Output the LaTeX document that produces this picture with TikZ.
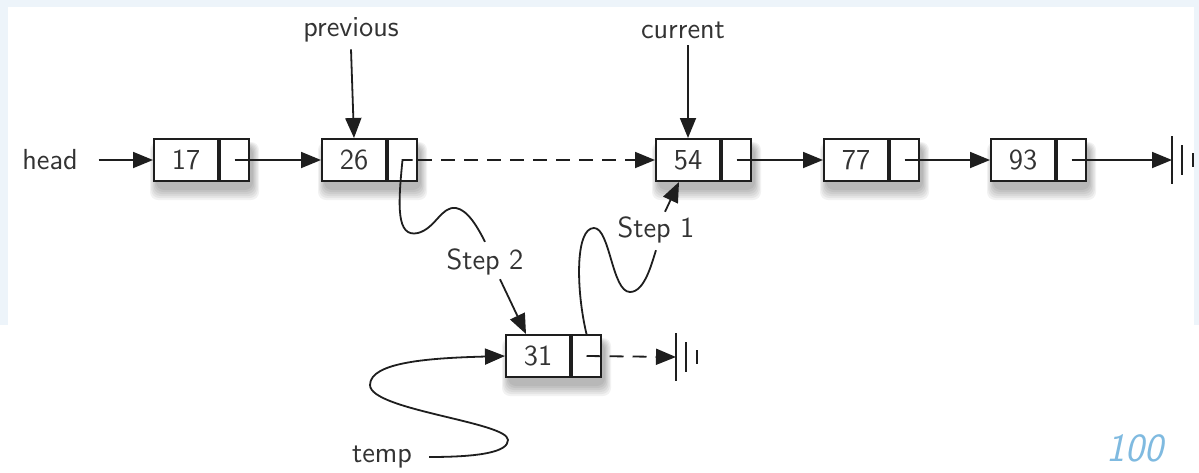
\documentclass[tikz,border=0pt]{standalone}
\usepackage{fontspec}
\usetikzlibrary{arrows.meta,calc}
\definecolor{ink}{HTML}{1E1E1E}
\definecolor{txt}{HTML}{333333}
\definecolor{slide}{HTML}{EDF4FA}
\definecolor{pagenum}{HTML}{7FBAE0}
\pgfdeclarelayer{back}
\pgfdeclarelayer{shade}
\pgfsetlayers{back,shade,main}
\newcommand\listbox[4]{%
  \node[dcell] (d#1) at (#2,#3) {#4};
  \node[pcell] (p#1) at (d#1.east) {};
  \begin{pgfonlayer}{shade}
    \foreach \k in {0,2,...,10}{%
      \fill[boxshadow] ($(d#1.north west)+(3-\k*0.6,8-\k*0.4)$) rectangle ($(p#1.south east)+(3+\k*0.6,8+\k)$);}
  \end{pgfonlayer}}
\begin{document}
\begin{tikzpicture}[x=0.5pt,y=-0.5pt,
  font=\sffamily\fontsize{14.5}{17}\selectfont,
  every node/.style={text=txt},
  dcell/.style={draw=ink, line width=1pt, fill=white, minimum width=32pt,
    minimum height=21pt, inner sep=0pt, anchor=west},
  pcell/.style={draw=ink, line width=1pt, fill=white, minimum width=14.5pt,
    minimum height=21pt, inner sep=0pt, anchor=west},
  wire/.style={draw=ink, line width=0.9pt},
  link/.style={wire, -{Triangle[length=10pt,width=8pt]}},
  dashlink/.style={link, dash pattern=on 7pt off 4.5pt},
  boxshadow/.style={black, opacity=0.05, rounded corners=4pt},
  bar/.style={draw=ink, line width=1pt},
  ground/.pic={\draw[bar] (0,-24) -- (0,24) (10,-15) -- (10,15) (21,-7) -- (21,7);}]

\begin{pgfonlayer}{back}
  \fill[slide] (0,0) rectangle (1199,472);
  \fill[white] (8,7) rectangle (1194,325);
  \fill[white] (0,325) rectangle (1199,472);
\end{pgfonlayer}
\useasboundingbox (0,0) rectangle (1199,472);

% list nodes
\listbox{17}{153}{160}{17}
\listbox{26}{321}{160}{26}
\listbox{54}{655}{160}{54}
\listbox{77}{823}{160}{77}
\listbox{93}{990}{160}{93}
\listbox{31}{505}{356}{31}

% labels
\node (head) at (50,160) {head};
\node (prev) at (351,30) {previous};
\node (cur) at (683,30) {current};
\node (temp) at (382,457) {temp};
\node (s2) at (485,262) {Step 2};
\node (s1) at (656,230) {Step 1};
\node[text=pagenum, font=\sffamily\itshape\fontsize{20}{24}\selectfont] (pg) at (1135,448) {100};

\coordinate (gnd1) at (1172,160);
\coordinate (gnd2) at (676,357);

% links
\draw[link, shorten <=7pt] (head.east) -- (d17.west);
\draw[link] (p17.center) -- (d26.west);
\draw[dashlink] (p26.east) -- (d54.west);
\draw[link] (p54.center) -- (d77.west);
\draw[link] (p77.center) -- (d93.west);
\draw[link] (p93.center) -- (gnd1);
\pic at (gnd1) {ground};
\draw[dashlink] (p31.center) -- (gnd2);
\pic at (gnd2) {ground};

\draw[link] (prev.south) -- (d26.north);
\draw[link] (d54.north |- cur.south) -- (d54.north);

% step 2
\draw[wire] ($(p26.center)+(10,0)$) -- (p26.center)
  .. controls (398,205) and (396,238) .. (418,233)
  .. controls (436,228) and (441,206) .. (456,208)
  .. controls (468,210) and (478,228) .. (s2.north);
\draw[link] ($(s2.south)+(15,-3)$) -- ($(d31.north)+(-12,0)$);

% step 1
\draw[wire] (p31.north)
  .. controls (576,290) and (575,228) .. (594,228)
  .. controls (610,228) and (612,292) .. (630,292)
  .. controls (645,292) and (652,262) .. (s1.south);
\draw[link] ($(s1.north)+(9,2)$) -- ($(d54.south)+(-9,0)$);

% temp
\draw[link] ($(temp.east)+(10,0)$)
  .. controls (480,457) and (508,452) .. (508,440)
  .. controls (508,422) and (370,410) .. (370,385)
  .. controls (370,362) and (430,358) .. (d31.west);
\end{tikzpicture}
\end{document}
